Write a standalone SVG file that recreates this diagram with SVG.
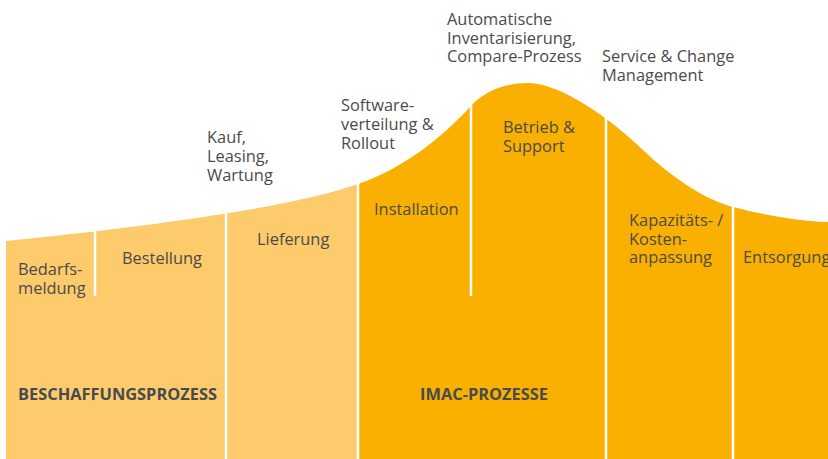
<svg xmlns="http://www.w3.org/2000/svg" width="828" height="459" viewBox="0 0 828 459">
<style>
.t{font-family:"Open Sans","Liberation Sans",sans-serif;font-size:16.4px;fill:#4b4b4b}
.b{font-family:"Open Sans","Liberation Sans",sans-serif;font-size:16.4px;font-weight:bold;fill:#474b4f}
.div{stroke:#ffffff;stroke-width:2.5;fill:none}
</style>
<rect width="828" height="459" fill="#ffffff"/>
<g id="shape">
<path id="beschaffung-area" d="M6,241 C150,226 290,208 358,184 L358,459 L6,459 Z" fill="#fdca6c"/>
<path id="imac-area" d="M358,184 C400,170 440,140 472,105 C485,91 505,83 528,83 C560,83 610,118 643,150 C670,176 705,200 733,207 C760,214 795,221 828,222 L828,459 L358,459 Z" fill="#f9b000"/>
</g>
<g id="dividers">
<line class="div" x1="95" y1="226" x2="95" y2="296"/>
<line class="div" x1="226" y1="205" x2="226" y2="459"/>
<line class="div" x1="358" y1="178" x2="358" y2="459"/>
<line class="div" x1="471" y1="98" x2="471" y2="296"/>
<line class="div" x1="606" y1="108" x2="606" y2="459"/>
<line class="div" x1="733" y1="200" x2="733" y2="459"/>
</g>
<g id="bedarfsmeldung"><text class="t" x="18" y="275">Bedarfs-<tspan x="18" dy="19">meldung</tspan></text></g>
<g id="bestellung"><text class="t" x="122" y="264">Bestellung</text></g>
<g id="lieferung"><text class="t" x="257" y="245">Lieferung</text></g>
<g id="installation"><text class="t" x="374" y="215">Installation</text></g>
<g id="betrieb"><text class="t" x="503" y="133">Betrieb &amp;<tspan x="503" dy="18.5">Support</tspan></text></g>
<g id="kapazitaet"><text class="t" x="629" y="226">Kapazitäts- /<tspan x="629" dy="18.5">Kosten-</tspan><tspan x="629" dy="18.5">anpassung</tspan></text></g>
<g id="entsorgung"><text class="t" x="743" y="263">Entsorgung</text></g>
<g id="kauf"><text class="t" x="207" y="143">Kauf,<tspan x="207" dy="19">Leasing,</tspan><tspan x="207" dy="19">Wartung</tspan></text></g>
<g id="software"><text class="t" x="341" y="111">Software-<tspan x="341" dy="19">verteilung &amp;</tspan><tspan x="341" dy="19">Rollout</tspan></text></g>
<g id="inventarisierung"><text class="t" x="447" y="25">Automatische<tspan x="447" dy="18.5">Inventarisierung,</tspan><tspan x="447" dy="18.5">Compare-Prozess</tspan></text></g>
<g id="service"><text class="t" x="602" y="62">Service &amp; Change<tspan x="602" dy="18.5">Management</tspan></text></g>
<g id="beschaffungsprozess"><text class="b" x="18" y="400">BESCHAFFUNGSPROZESS</text></g>
<g id="imac-prozesse"><text class="b" x="420" y="400">IMAC-PROZESSE</text></g>
</svg>
